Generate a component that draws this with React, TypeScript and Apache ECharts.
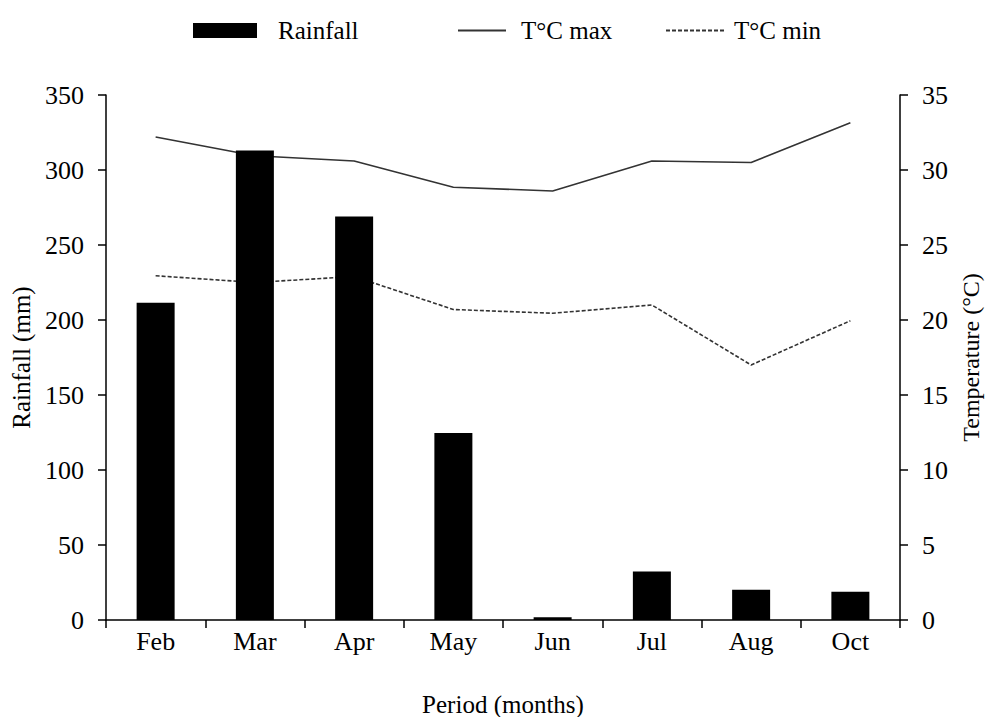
import React, { useEffect, useRef } from "react";
import * as echarts from "echarts";

const months = ["Feb", "Mar", "Apr", "May", "Jun", "Jul", "Aug", "Oct"];
const rainfall = [211.5, 313, 269, 124.7, 1.8, 32.4, 20.2, 18.9];
const tMax = [32.2, 30.95, 30.6, 28.85, 28.6, 30.6, 30.5, 33.15];
const tMin = [22.95, 22.5, 22.9, 20.7, 20.45, 21.0, 17.0, 19.95];

const FONT = "'Liberation Serif', 'Times New Roman', serif";

export default function App() {
  const ref = useRef<HTMLDivElement>(null);
  useEffect(() => {
    if (!ref.current) return;
    const chart = echarts.init(ref.current, undefined, { renderer: "svg" });
    const tick = { fontFamily: FONT, fontSize: 26, color: "#000" };
    const nameTxt = { fontFamily: FONT, fontSize: 25, color: "#000" };
    const legTxt = { fontFamily: FONT, fontSize: 25, color: "#000" };
    chart.setOption({
      animation: false,
      backgroundColor: "#fff",
      textStyle: { fontFamily: FONT },
      legend: [
        {
          data: ["Rainfall"],
          left: 188,
          top: 13,
          icon: "rect",
          itemWidth: 64,
          itemHeight: 15,
          textStyle: { ...legTxt, padding: [0, 0, 0, 16] },
        },
        {
          data: ["T°C max"],
          left: 452,
          top: 13,
          itemWidth: 48,
          itemHeight: 15,
          itemStyle: { opacity: 0 },
          textStyle: { ...legTxt, padding: [0, 0, 0, 10] },
        },
        {
          data: ["T°C min"],
          left: 660,
          top: 13,
          itemWidth: 60,
          itemHeight: 15,
          itemStyle: { opacity: 0 },
          textStyle: { ...legTxt, padding: [0, 0, 0, 3] },
        },
      ],
      grid: {
        left: 106,
        right: 87,
        top: 95,
        bottom: 97,
        containLabel: false,
        outerBoundsMode: "none",
      },
      xAxis: {
        type: "category",
        data: months,
        name: "Period (months)",
        nameLocation: "middle",
        nameGap: 72,
        nameTextStyle: nameTxt,
        axisLine: { lineStyle: { color: "#000", width: 1.5 } },
        axisTick: { show: true, length: 8, lineStyle: { color: "#000", width: 1.5 } },
        axisLabel: { ...tick, margin: 8 },
        splitLine: { show: false },
      },
      yAxis: [
        {
          type: "value",
          min: 0,
          max: 350,
          interval: 50,
          name: "Rainfall (mm)",
          nameLocation: "middle",
          nameGap: 72,
          nameTextStyle: nameTxt,
          axisLine: { show: true, lineStyle: { color: "#000", width: 1.5 } },
          axisTick: { show: true, length: 8, lineStyle: { color: "#000", width: 1.5 } },
          axisLabel: { ...tick, margin: 22 },
          splitLine: { show: false },
        },
        {
          type: "value",
          min: 0,
          max: 35,
          interval: 5,
          position: "right",
          name: "Temperature (°C)",
          nameLocation: "middle",
          nameGap: 59,
          nameRotate: 90,
          nameTextStyle: { ...nameTxt, fontSize: 24 },
          axisLine: { show: true, lineStyle: { color: "#000", width: 1.5 } },
          axisTick: { show: true, length: 8, lineStyle: { color: "#000", width: 1.5 } },
          axisLabel: { ...tick, margin: 22 },
          splitLine: { show: false },
        },
      ],
      series: [
        {
          name: "Rainfall",
          type: "bar",
          data: rainfall,
          barWidth: 38,
          itemStyle: { color: "#000" },
          z: 3,
        },
        {
          name: "T°C max",
          type: "line",
          yAxisIndex: 1,
          data: tMax,
          symbol: "none",
          lineStyle: { color: "#333", width: 1.6 },
          itemStyle: { color: "#333" },
          z: 2,
        },
        {
          name: "T°C min",
          type: "line",
          yAxisIndex: 1,
          data: tMin,
          symbol: "none",
          lineStyle: { color: "#333", width: 1.6, type: [4, 2] },
          itemStyle: { color: "#333" },
          z: 2,
        },
      ],
    });
    return () => chart.dispose();
  }, []);
  return (
    <div
      ref={ref}
      style={{ position: "fixed", left: 0, top: 0, width: 987, height: 717 }}
    />
  );
}
